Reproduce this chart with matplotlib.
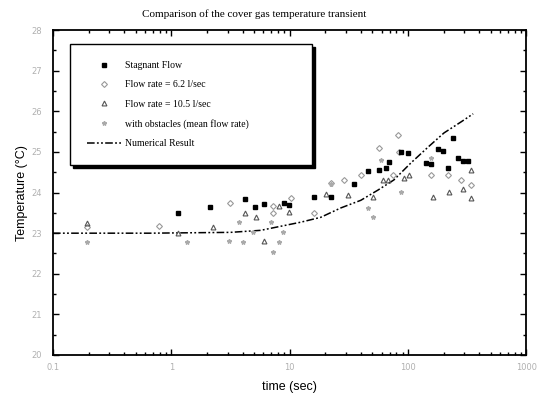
import numpy as np
import matplotlib
matplotlib.use("Agg")
import matplotlib.pyplot as plt
from matplotlib.ticker import LogLocator, MultipleLocator, FixedLocator

# ---------------------------------------------------------------
# data
# ---------------------------------------------------------------
num_t = [0.1, 0.66, 3.16, 5.7, 12.4, 18.3, 27, 40, 55.7, 76, 106, 148, 202, 281, 356]
num_T = [23.0, 23.0, 23.02, 23.07, 23.27, 23.39, 23.62, 23.81, 24.06, 24.31, 24.73, 25.12, 25.47, 25.74, 25.94]

stag_t = [1.15, 2.14, 4.16, 5.05, 6.02, 8.89, 9.81, 16.0, 22.2, 34.8, 45.8, 56.8, 65.1, 69,
          87.3, 100, 142, 157, 179.5, 198, 218, 240, 265, 292, 322]
stag_T = [23.49, 23.64, 23.84, 23.64, 23.71, 23.74, 23.69, 23.89, 23.89, 24.21, 24.53, 24.55, 24.60, 24.75,
          25.0, 24.97, 24.72, 24.70, 25.07, 25.02, 24.60, 25.34, 24.85, 24.77, 24.77]

f62_t = [0.194, 0.78, 3.16, 7.18, 7.18, 10.2, 16.0, 22.2, 28.7, 40, 56.8, 74.6, 82.2, 83.9,
         281, 342, 157, 218]
f62_T = [23.15, 23.17, 23.74, 23.67, 23.49, 23.86, 23.49, 24.23, 24.31, 24.43, 25.09, 24.43, 25.41, 25.0,
         24.31, 24.18, 24.43, 24.43]

f105_t = [0.194, 1.15, 2.23, 4.16, 5.15, 6.02, 8.07, 9.81, 20.2, 31, 50.5, 61.4, 67.7, 92.5, 102,
          163, 222, 292, 342, 342]
f105_T = [23.25, 23.0, 23.15, 23.49, 23.39, 22.80, 23.67, 23.52, 23.96, 23.94, 23.89, 24.31, 24.31, 24.35, 24.43,
          23.89, 24.01, 24.08, 24.55, 23.86]

obs_t = [0.194, 1.37, 3.10, 3.70, 4.07, 4.86, 6.9, 8.07, 7.18, 8.73, 22.2, 45.8, 50.5, 87.3, 157, 59]
obs_T = [22.78, 22.78, 22.80, 23.27, 22.78, 23.02, 23.27, 22.78, 22.53, 23.02, 24.21, 23.62, 23.39, 24.01, 24.85, 24.80]

x_ticks = [0.1, 1, 10, 100, 1000]
x_tick_labels = ["0.1", "1", "10", "100", "1000"]
y_ticks = [20, 21, 22, 23, 24, 25, 26, 27, 28]

serif = ["Liberation Serif", "DejaVu Serif"]
sans = ["Liberation Sans", "DejaVu Sans"]

fig = plt.figure(figsize=(5.39, 4.05), dpi=100)
ax = fig.add_axes([0.0983, 0.1235, 0.878, 0.802])

ax.plot(num_t, num_T, color="black", lw=1.1, dashes=(5, 1.5, 1.2, 1.5, 1.2, 1.5),
        label="Numerical Result", zorder=2)
ax.plot(stag_t, stag_T, ls="none", marker="s", ms=2.6, color="black",
        label="Stagnant Flow", zorder=4)
ax.plot(f62_t, f62_T, ls="none", marker="D", ms=3, mfc="none", mec="#999999", mew=0.8,
        label="Flow rate = 6.2 l/sec", zorder=3)
ax.plot(f105_t, f105_T, ls="none", marker="^", ms=3.5, mfc="none", mec="#555555", mew=0.8,
        label="Flow rate = 10.5 l/sec", zorder=3)
ax.plot(obs_t, obs_T, ls="none", marker="*", ms=3.2, color="#aaaaaa",
        label="with obstacles (mean flow rate)", zorder=3)

ax.set_xscale("log")
ax.set_xlim(0.1, 1000)
ax.set_ylim(20, 28)
ax.xaxis.set_major_locator(FixedLocator(x_ticks))
ax.set_xticklabels(x_tick_labels)
ax.xaxis.set_minor_locator(LogLocator(base=10, subs=np.arange(2, 10), numticks=20))
ax.yaxis.set_major_locator(FixedLocator(y_ticks))
ax.yaxis.set_minor_locator(MultipleLocator(0.5))
ax.tick_params(which="both", direction="in", top=True, right=True,
               labelsize=6, labelcolor="#b0b0b0", width=1.0)
ax.tick_params(which="major", length=4)
ax.tick_params(which="minor", length=2)
ax.tick_params(axis="x", pad=6)
ax.tick_params(axis="y", pad=8)
for s in ax.spines.values():
    s.set_linewidth(1.3)

ax.set_xlabel("time (sec)", fontsize=9, family=sans, labelpad=6)
ax.set_ylabel("Temperature (\u00b0C)", fontsize=9, family=sans, labelpad=2)
fig.text(0.471, 0.965, "Comparison of the cover gas temperature transient",
         ha="center", va="center", fontsize=8, family=serif)

h, l = ax.get_legend_handles_labels()
order = [1, 2, 3, 4, 0]
leg = ax.legend([h[i] for i in order], [l[i] for i in order],
                loc="upper left", bbox_to_anchor=(0.036, 0.857, 0.512, 0.1), mode="expand",
                prop={"family": serif, "size": 7}, frameon=True, fancybox=False,
                edgecolor="black", shadow={"color": "black", "alpha": 1.0},
                labelspacing=1.05, borderpad=1.75, handlelength=3.5, handletextpad=0.4,
                borderaxespad=0)
leg.get_frame().set_linewidth(1.0)

fig.savefig("out.png", dpi=100)
